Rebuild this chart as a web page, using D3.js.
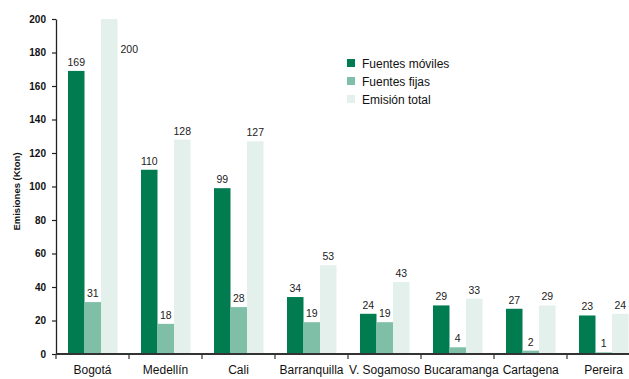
<!DOCTYPE html>
<html>
<head>
<meta charset="utf-8">
<script src="https://cdn.jsdelivr.net/npm/d3@7"></script>
<style>
  html, body { margin: 0; padding: 0; background: #fff; }
  svg { display: block; font-family: "Liberation Sans", Arial, sans-serif; }
</style>
</head>
<body>
<svg id="chart" width="629" height="379"></svg>
<script>
// Emisiones por ciudad (Kton)
const cities = ["Bogotá", "Medellín", "Cali", "Barranquilla", "V. Sogamoso", "Bucaramanga", "Cartagena", "Pereira"];
const seriesNames = ["Fuentes móviles", "Fuentes fijas", "Emisión total"];
const moviles = [169, 110, 99, 34, 24, 29, 27, 23];
const fijas = [31, 18, 28, 19, 19, 4, 2, 1];
const total = [200, 128, 127, 53, 43, 33, 29, 24];
const yTicks = [0, 20, 40, 60, 80, 100, 120, 140, 160, 180, 200];
const colors = ["#017c51", "#80bfa7", "#e3f0eb"];

const seriesValues = [moviles, fijas, total];

const svg = d3.select("#chart");
const plotLeft = 56, plotRight = 640, plotTop = 19, plotBottom = 354;

const x = d3.scaleBand().domain(cities).range([plotLeft, plotRight]);
const xs = d3.scaleBand().domain(seriesNames).range([12, x.bandwidth() - 11.5]);
const y = d3.scaleLinear().domain([0, 200]).range([plotBottom, plotTop]);

// a label that would rise above the plot area goes beside its bar instead
const fitsAbove = v => y(v) - 14 >= plotTop;

// bars and value labels
seriesNames.forEach((name, si) => {
  const vals = seriesValues[si];
  const g = svg.append("g");
  g.selectAll("rect").data(cities).join("rect")
    .attr("x", c => x(c) + xs(name))
    .attr("y", (c, i) => y(vals[i]))
    .attr("width", xs.bandwidth())
    .attr("height", (c, i) => y(0) - y(vals[i]))
    .attr("fill", colors[si]);

  g.selectAll("text").data(cities).join("text")
    .attr("x", (c, i) => fitsAbove(vals[i])
      ? x(c) + xs(name) + xs.bandwidth() / 2
      : x(c) + xs(name) + xs.bandwidth() + 3)
    .attr("y", (c, i) => fitsAbove(vals[i]) ? y(vals[i]) - 5 : y(vals[i]) + 34)
    .attr("text-anchor", (c, i) => fitsAbove(vals[i]) ? "middle" : "start")
    .attr("font-size", "10.5px")
    .attr("fill", "#222")
    .text((c, i) => vals[i]);
});

// y axis
const yAxis = d3.axisLeft(y).tickValues(yTicks).tickSize(4).tickPadding(6).tickSizeOuter(0);
const gy = svg.append("g").attr("transform", `translate(${plotLeft},0)`).call(yAxis);
gy.select(".domain").attr("stroke", "#222").attr("stroke-width", 1.3);
gy.selectAll(".tick line").attr("stroke", "#222").attr("stroke-width", 1.2);
gy.selectAll(".tick text")
  .attr("font-size", "10px").attr("font-weight", "bold").attr("fill", "#111")
  .attr("font-family", "'Liberation Sans', Arial, sans-serif");

// x axis with ticks at category boundaries
const gx = svg.append("g").attr("transform", `translate(0,${plotBottom})`);
gx.append("line").attr("x1", plotLeft).attr("x2", plotRight).attr("y1", 0).attr("y2", 0)
  .attr("stroke", "#333").attr("stroke-width", 2);
gx.selectAll("line.tk").data(cities).join("line").attr("class", "tk")
  .attr("x1", c => x(c)).attr("x2", c => x(c)).attr("y1", 0).attr("y2", 5)
  .attr("stroke", "#333").attr("stroke-width", 1.2);
const catLabels = gx.selectAll("text").data(cities).join("text")
  .attr("x", c => x(c) + x.bandwidth() / 2)
  .attr("y", 20)
  .attr("text-anchor", "middle")
  .attr("font-size", "12px")
  .attr("fill", "#111")
  .text(c => c);

// nudge category labels right so neighbours keep a small gap
let prevRight = -Infinity;
catLabels.each(function () {
  const w = this.getComputedTextLength();
  let cx = +this.getAttribute("x");
  if (cx - w / 2 < prevRight + 4) cx = prevRight + 4 + w / 2;
  this.setAttribute("x", cx);
  prevRight = cx + w / 2;
});

// axis title
svg.append("text")
  .attr("transform", `translate(20,${(plotTop + plotBottom) / 2 + 5}) rotate(-90)`)
  .attr("text-anchor", "middle")
  .attr("font-size", "9.5px")
  .attr("font-weight", "bold")
  .attr("fill", "#111")
  .text("Emisiones (Kton)");

// legend
const legend = svg.append("g").attr("transform", "translate(347,59)");
seriesNames.forEach((name, i) => {
  const row = legend.append("g").attr("transform", `translate(0,${i * 18})`);
  row.append("rect").attr("width", 8).attr("height", 8).attr("fill", colors[i]);
  row.append("text").attr("x", 15).attr("y", 8.5)
    .attr("font-size", "12px").attr("fill", "#111").text(name);
});
</script>
</body>
</html>
